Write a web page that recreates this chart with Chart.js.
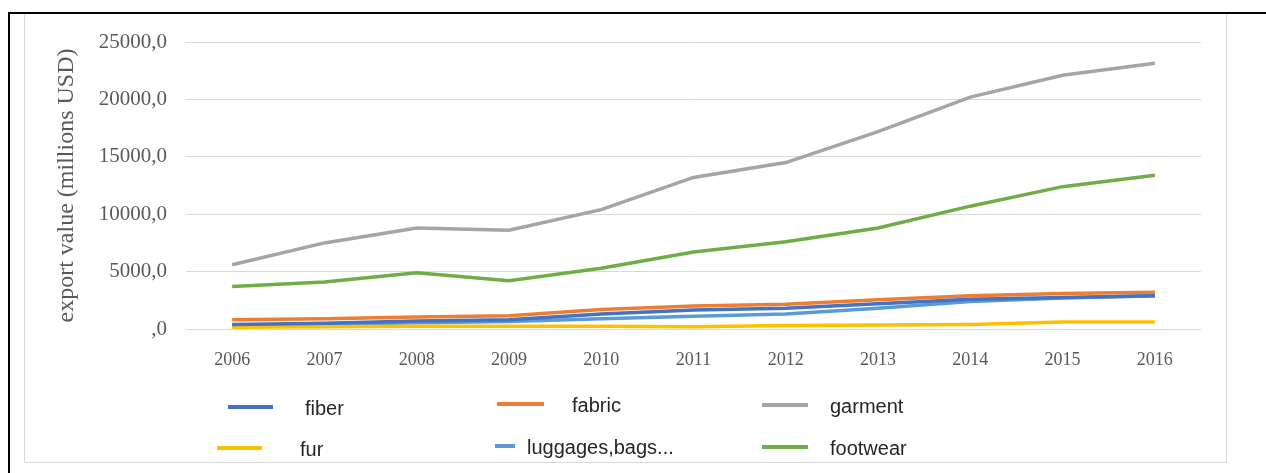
<!DOCTYPE html>
<html>
<head>
<meta charset="utf-8">
<style>
  html, body { margin: 0; padding: 0; background: #ffffff; }
  #page { position: relative; width: 1266px; height: 473px; overflow: hidden; }
  #topRule { position: absolute; left: 8px; top: 12px; width: 1258px; height: 2px; background: #000; }
  #leftRule { position: absolute; left: 8px; top: 12px; width: 2px; height: 461px; background: #000; }
  #chartBox { position: absolute; left: 24px; top: 14px; width: 1201px; height: 448px; border: 1px solid #d9d9d9; border-top: none; }
  #wrap { position: absolute; left: 0; top: 0; width: 1266px; height: 473px; }
</style>
</head>
<body>
<div id="page">
  <div id="topRule"></div>
  <div id="leftRule"></div>
  <div id="chartBox"></div>
  <div id="wrap"><canvas id="c" width="1266" height="473"></canvas></div>
</div>
<script src="https://cdn.jsdelivr.net/npm/chart.js@4/dist/chart.umd.min.js"></script>
<script>
// Export value by product group, millions USD
const years = ['2006', '2007', '2008', '2009', '2010', '2011', '2012', '2013', '2014', '2015', '2016'];
const fiber     = [400, 500, 700, 800, 1300, 1650, 1800, 2200, 2600, 2750, 2900];
const fabric    = [800, 900, 1050, 1150, 1700, 2000, 2150, 2550, 2900, 3100, 3200];
const garment   = [5600, 7500, 8800, 8600, 10400, 13200, 14500, 17200, 20200, 22100, 23150];
const fur       = [150, 200, 250, 250, 250, 200, 300, 350, 400, 600, 600];
const luggages  = [300, 400, 550, 650, 900, 1100, 1300, 1800, 2400, 2700, 2900];
const footwear  = [3700, 4100, 4900, 4200, 5300, 6700, 7600, 8800, 10700, 12400, 13400];
const yTicks    = [0, 5000, 10000, 15000, 20000, 25000];

const seriesNames = ['fiber', 'fabric', 'garment', 'fur', 'luggages,bags...', 'footwear'];
const seriesData = [fiber, fabric, garment, fur, luggages, footwear];
const seriesColors = ['#4472C4', '#ED7D31', '#A5A5A5', '#FFC000', '#5B9BD5', '#70AD47'];

// Legend slots: two rows of three entries, line sample then label
const legendSlots = [
  { x: 228, y: 407, len: 45, tx: 305 },
  { x: 497, y: 404, len: 47, tx: 572 },
  { x: 762, y: 405, len: 46, tx: 830 },
  { x: 217, y: 448, len: 45, tx: 300 },
  { x: 495, y: 446, len: 20, tx: 527 },
  { x: 762, y: 447, len: 46, tx: 830 }
];

const legendPlugin = {
  id: 'slotLegend',
  afterDraw(chart) {
    const ctx = chart.ctx;
    ctx.save();
    chart.data.datasets.forEach((ds, i) => {
      const s = legendSlots[i];
      ctx.strokeStyle = ds.borderColor;
      ctx.lineWidth = 4;
      ctx.lineCap = 'butt';
      ctx.beginPath();
      ctx.moveTo(s.x, s.y);
      ctx.lineTo(s.x + s.len, s.y);
      ctx.stroke();
      ctx.fillStyle = '#262626';
      ctx.font = '20px "Liberation Sans", Arial, sans-serif';
      ctx.textBaseline = 'middle';
      ctx.textAlign = 'left';
      ctx.fillText(ds.label, s.tx, s.y + 2);
    });
    ctx.restore();
  }
};

const datasets = seriesNames.map((name, i) => ({
  label: name,
  data: seriesData[i],
  borderColor: seriesColors[i],
  backgroundColor: seriesColors[i],
  borderWidth: 3.5,
  pointRadius: 0,
  tension: 0,
  fill: false
}));

new Chart(document.getElementById('c'), {
  type: 'line',
  data: { labels: years, datasets },
  plugins: [legendPlugin],
  options: {
    responsive: false,
    animation: false,
    layout: { padding: { left: 0, top: 42, right: 65, bottom: 0 } },
    plugins: { legend: { display: false }, tooltip: { enabled: false } },
    scales: {
      x: {
        offset: true,
        grid: { display: false, drawTicks: false },
        border: { display: false },
        ticks: {
          color: '#595959',
          padding: 20,
          font: { family: '"Liberation Serif", "Times New Roman", serif', size: 18 }
        },
        afterFit(scale) { scale.height = 144; }
      },
      y: {
        min: 0,
        max: 25000,
        afterBuildTicks(scale) { scale.ticks = yTicks.map(v => ({ value: v })); },
        grid: { color: '#d9d9d9', lineWidth: 1, drawTicks: false },
        border: { display: false },
        ticks: {
          color: '#595959',
          padding: 19,
          font: { family: '"Liberation Serif", "Times New Roman", serif', size: 21 },
          callback: v => (v === 0 ? ',0' : v + ',0')
        },
        title: {
          display: true,
          text: 'export value (millions USD)',
          color: '#595959',
          padding: { top: 52, bottom: 0 },
          font: { family: '"Liberation Serif", "Times New Roman", serif', size: 24 }
        },
        afterFit(scale) { scale.width = 186; }
      }
    }
  }
});
</script>
</body>
</html>
